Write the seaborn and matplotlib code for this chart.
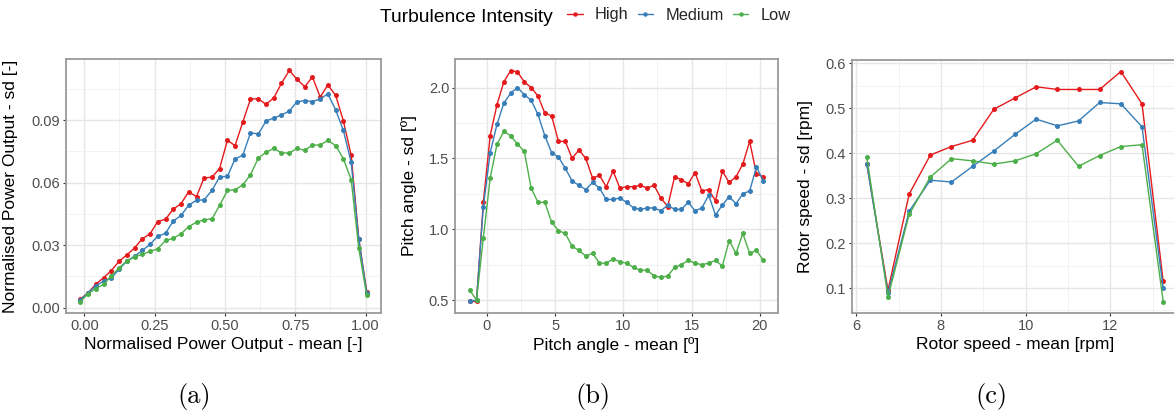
import numpy as np
import pandas as pd
import matplotlib
matplotlib.use("Agg")
import matplotlib.pyplot as plt
from matplotlib.ticker import MultipleLocator, FormatStrFormatter
from matplotlib.lines import Line2D
import seaborn as sns

levels = ["High", "Medium", "Low"]
colors = ["#E41A1C", "#377EB8", "#4DAF4A"]

# Panel (a): normalised power output
power_mean = [-0.014, 0.014, 0.041, 0.069, 0.096, 0.124, 0.151, 0.179, 0.206, 0.234,
              0.261, 0.289, 0.316, 0.344, 0.371, 0.399, 0.426, 0.454, 0.481, 0.509,
              0.536, 0.564, 0.591, 0.619, 0.646, 0.674, 0.701, 0.729, 0.756, 0.784,
              0.811, 0.839, 0.866, 0.894, 0.921, 0.949, 0.976, 1.004]
power_sd_high = [0.0040, 0.0072, 0.0112, 0.0144, 0.0177, 0.0223, 0.0252, 0.0287, 0.0330, 0.0354,
                 0.0413, 0.0424, 0.0472, 0.0499, 0.0555, 0.0533, 0.0622, 0.0626, 0.0667, 0.0803,
                 0.0777, 0.0892, 0.1001, 0.1002, 0.0975, 0.1007, 0.1076, 0.1138, 0.1096, 0.1060,
                 0.1107, 0.1010, 0.1069, 0.1018, 0.0897, 0.0731, 0.0330, 0.0077]
power_sd_medium = [0.0037, 0.0072, 0.0104, 0.0128, 0.0142, 0.0184, 0.0223, 0.0247, 0.0274, 0.0303,
                   0.0343, 0.0356, 0.0415, 0.0442, 0.0491, 0.0515, 0.0517, 0.0562, 0.0627, 0.0630,
                   0.0713, 0.0732, 0.0839, 0.0833, 0.0895, 0.0910, 0.0924, 0.0943, 0.0988, 0.0993,
                   0.0989, 0.1001, 0.1026, 0.0948, 0.0851, 0.0697, 0.0327, 0.0072]
power_sd_low = [0.0029, 0.0067, 0.0091, 0.0112, 0.0152, 0.0191, 0.0223, 0.0244, 0.0255, 0.0270,
                0.0282, 0.0322, 0.0332, 0.0354, 0.0388, 0.0410, 0.0421, 0.0426, 0.0490, 0.0562,
                0.0565, 0.0589, 0.0638, 0.0718, 0.0745, 0.0764, 0.0742, 0.0742, 0.0764, 0.0755,
                0.0780, 0.0780, 0.0803, 0.0777, 0.0715, 0.0614, 0.0284, 0.0059]

# Panel (b): pitch angle
pitch_mean = [-1.25, -0.75, -0.25, 0.25, 0.75, 1.25, 1.75, 2.25, 2.75, 3.25, 3.75,
              4.25, 4.75, 5.25, 5.75, 6.25, 6.75, 7.25, 7.75, 8.25, 8.75, 9.25,
              9.75, 10.25, 10.75, 11.25, 11.75, 12.25, 12.75, 13.25, 13.75, 14.25,
              14.75, 15.25, 15.75, 16.25, 16.75, 17.25, 17.75, 18.25, 18.75, 19.25,
              19.75, 20.25]
pitch_sd_high = [0.49, 0.49, 1.19, 1.66, 1.88, 2.04, 2.12, 2.11, 2.04, 2.00, 1.94,
                 1.82, 1.80, 1.62, 1.62, 1.50, 1.56, 1.50, 1.36, 1.38, 1.30, 1.41,
                 1.29, 1.30, 1.30, 1.31, 1.29, 1.31, 1.22, 1.16, 1.37, 1.35,
                 1.32, 1.40, 1.27, 1.28, 1.20, 1.41, 1.33, 1.37, 1.46, 1.62,
                 1.39, 1.37]
pitch_sd_medium = [0.49, 0.50, 1.16, 1.54, 1.74, 1.89, 1.96, 2.00, 1.95, 1.91, 1.81,
                   1.66, 1.54, 1.51, 1.43, 1.34, 1.31, 1.28, 1.33, 1.29, 1.21, 1.21,
                   1.22, 1.19, 1.15, 1.14, 1.15, 1.15, 1.13, 1.17, 1.14, 1.14,
                   1.19, 1.13, 1.15, 1.24, 1.10, 1.17, 1.23, 1.18, 1.25, 1.27,
                   1.44, 1.34]
pitch_sd_low = [0.57, 0.50, 0.94, 1.36, 1.60, 1.69, 1.66, 1.60, 1.55, 1.29, 1.19,
                1.19, 1.05, 0.99, 0.97, 0.88, 0.85, 0.81, 0.83, 0.76, 0.76, 0.79,
                0.77, 0.76, 0.73, 0.71, 0.71, 0.67, 0.66, 0.67, 0.73, 0.75,
                0.78, 0.76, 0.75, 0.76, 0.78, 0.74, 0.92, 0.83, 0.97, 0.83,
                0.85, 0.78]

# Panel (c): rotor speed
rotor_mean = [6.25, 6.75, 7.25, 7.75, 8.25, 8.75, 9.25, 9.75, 10.25, 10.75,
              11.25, 11.75, 12.25, 12.75, 13.25]
rotor_sd_high = [0.376, 0.095, 0.309, 0.396, 0.415, 0.429, 0.498, 0.523, 0.548, 0.542,
                 0.542, 0.542, 0.582, 0.510, 0.115]
rotor_sd_medium = [0.376, 0.089, 0.271, 0.340, 0.336, 0.371, 0.405, 0.442, 0.476, 0.461,
                   0.472, 0.513, 0.510, 0.459, 0.100]
rotor_sd_low = [0.391, 0.080, 0.264, 0.347, 0.388, 0.383, 0.376, 0.383, 0.399, 0.429,
                0.371, 0.395, 0.415, 0.419, 0.070]


def long_df(x, highs, meds, lows):
    frames = []
    for lvl, vals in zip(levels, [highs, meds, lows]):
        frames.append(pd.DataFrame({"x": x, "y": vals, "ti": lvl}))
    return pd.concat(frames, ignore_index=True)


sns.set_theme(style="white")
plt.rcParams["font.family"] = ["Liberation Sans", "DejaVu Sans"]

W, H = 1174, 412
fig = plt.figure(figsize=(W / 100, H / 100), dpi=100)


def px_axes(left, right, top, bottom):
    return fig.add_axes([left / W, 1 - bottom / H, (right - left) / W, (bottom - top) / H])


ax_a = px_axes(66, 381, 59, 313)
ax_b = px_axes(455, 778, 59, 313)
ax_c = px_axes(852, 1178, 60, 313)

panels = [
    (ax_a, long_df(power_mean, power_sd_high, power_sd_medium, power_sd_low),
     "Normalised Power Output - mean [-]", "Normalised Power Output - sd [-]",
     0.25, 0.125, 0.03, 0.015, "%.2f", "%.2f"),
    (ax_b, long_df(pitch_mean, pitch_sd_high, pitch_sd_medium, pitch_sd_low),
     "Pitch angle - mean [º]", "Pitch angle - sd [º]",
     5, 2.5, 0.5, 0.25, "%d", "%.1f"),
    (ax_c, long_df(rotor_mean, rotor_sd_high, rotor_sd_medium, rotor_sd_low),
     "Rotor speed - mean [rpm]", "Rotor speed - sd [rpm]",
     2, 1, 0.1, 0.05, "%d", "%.1f"),
]

for ax, df, xl, yl, xmaj, xmin, ymaj, ymin, xfmt, yfmt in panels:
    sns.lineplot(data=df, x="x", y="y", hue="ti", hue_order=levels, palette=colors,
                 marker="o", markersize=3.6, markeredgewidth=0, linewidth=1.0,
                 legend=False, ax=ax, zorder=3)
    ax.set_xlabel(xl, fontsize=12.5, color="black", labelpad=3)
    ax.set_ylabel(yl, fontsize=12.5, color="black", labelpad=3)
    ax.xaxis.set_major_locator(MultipleLocator(xmaj))
    ax.xaxis.set_minor_locator(MultipleLocator(xmin))
    ax.yaxis.set_major_locator(MultipleLocator(ymaj))
    ax.yaxis.set_minor_locator(MultipleLocator(ymin))
    ax.xaxis.set_major_formatter(FormatStrFormatter(xfmt))
    ax.yaxis.set_major_formatter(FormatStrFormatter(yfmt))
    ax.grid(which="major", color="#E6E6E6", linewidth=1.0, zorder=0)
    ax.grid(which="minor", color="#F0F0F0", linewidth=0.6, zorder=0)
    ax.set_axisbelow(True)
    ax.tick_params(which="major", length=2.2, width=0.8, color="#333333",
                   labelsize=10.5, labelcolor="#4D4D4D", pad=2, bottom=True, left=True)
    ax.tick_params(which="minor", length=0)
    for s in ax.spines.values():
        s.set_color("#9A9A9A")
        s.set_linewidth(1.3)

ax_a.set_xlim(-0.065, 1.055)
ax_a.set_ylim(-0.0026, 0.1193)
ax_b.set_xlim(-2.325, 21.325)
ax_b.set_ylim(0.4085, 2.2015)
ax_c.set_xlim(5.9, 13.6)
ax_c.set_ylim(0.0444, 0.6076)

# y-label positions
ax_a.yaxis.set_label_coords((18 - 66) / (381 - 66), 0.5)
ax_b.yaxis.set_label_coords((417 - 455) / (778 - 455), 0.5)
ax_c.yaxis.set_label_coords((813 - 852) / (1178 - 852), 0.5)

# legend
fig.text(553 / W, 1 - 22.5 / H, "Turbulence Intensity", ha="right", va="baseline",
         fontsize=13.9, color="black")
handles = [Line2D([0], [0], color=c, marker="o", markersize=3.2, markeredgewidth=0, linewidth=1.0)
           for c in colors]
fig.legend(handles, levels, loc="center left", bbox_to_anchor=(567 / W, 1 - 15 / H),
           ncol=3, frameon=False, fontsize=11.8, handlelength=0.95, handletextpad=0.75,
           columnspacing=0.55, borderpad=0, borderaxespad=0)

# subfigure labels
for xc, lab in [(194, "(a)"), (593, "(b)"), (991, "(c)")]:
    fig.text(xc / W, 1 - 396 / H, lab, ha="center", va="center", fontsize=19,
             family="cmr10", color="black")

fig.savefig("out.png", dpi=100)
